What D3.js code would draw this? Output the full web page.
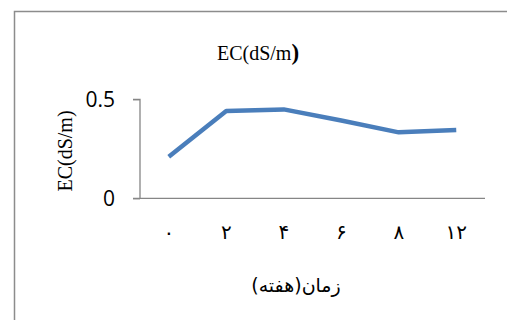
<!DOCTYPE html>
<html>
<head>
<meta charset="utf-8">
<script src="https://cdn.jsdelivr.net/npm/d3@7"></script>
<style>
html,body{margin:0;padding:0;background:#fff;overflow:hidden;}
svg{display:block;}
</style>
</head>
<body>
<svg id="chart" width="507" height="320"></svg>
<script>
const categories = ["0", "2", "4", "6", "8", "12"];
const tickLabels = ["۰", "۲", "۴", "۶", "۸", "۱۲"];
const ecValues = [0.21, 0.441, 0.449, 0.393, 0.333, 0.345];
const yTicks = [0, 0.5];
const yTickLabels = ["0", "0.5"];
const titleText = "EC(dS/m";
const yTitleText = "EC(dS/m)";
const xTitleText = "زمان(هفته)";

const svg = d3.select("#chart");

// chart border (only top and left are visible in the frame)
svg.append("path")
  .attr("d", "M14.5,320V11.5H507")
  .attr("fill", "none").attr("stroke", "#8c8c8c").attr("stroke-width", 1.5);

const plot = {left: 140, right: 485, top: 99.3, bottom: 198.3};

const x = d3.scaleBand().domain(categories).range([plot.left, plot.right]).padding(0);
const y = d3.scaleLinear().domain([0, 0.5]).range([plot.bottom, plot.top]);

// y axis
const yAxis = d3.axisLeft(y).tickValues(yTicks).tickSize(7).tickFormat(() => "");
const gy = svg.append("g").attr("transform", `translate(${plot.left},0)`).call(yAxis);
gy.select(".domain").attr("stroke", "#868686").attr("stroke-width", 1.3).attr("d", `M-7,${y(0.5)}H0V${y(0)}`);
gy.selectAll(".tick line").attr("stroke", "#868686").attr("stroke-width", 1.3);

// y tick labels
svg.append("g").selectAll("text").data(yTicks).join("text")
  .attr("x", 115).attr("y", d => y(d) + 7.5)
  .attr("text-anchor", "end")
  .attr("font-family", "'Open Sans', sans-serif").attr("font-size", 21)
  .attr("fill", "#000")
  .text((d, i) => yTickLabels[i]);

// x axis
const xAxis = d3.axisBottom(x).tickSize(0).tickFormat((d, i) => tickLabels[i]);
const gx = svg.append("g").attr("transform", `translate(0,${plot.bottom})`).call(xAxis);
gx.select(".domain").attr("stroke", "#868686").attr("stroke-width", 1.3).attr("d", `M${plot.left - 7},0H${plot.right}`);
gx.selectAll(".tick text")
  .attr("y", 41).attr("dy", 0)
  .attr("font-family", "'DejaVu Sans', sans-serif").attr("font-size", 20)
  .attr("fill", "#000");

// line
const line = d3.line().x((d, i) => x(categories[i]) + x.bandwidth() / 2).y(d => y(d));
svg.append("path").datum(ecValues)
  .attr("d", line)
  .attr("fill", "none").attr("stroke", "#4a7ebb").attr("stroke-width", 4.5)
  .attr("stroke-linejoin", "round").attr("stroke-linecap", "butt");

// title
const t = svg.append("text")
  .attr("x", 258).attr("y", 60)
  .attr("text-anchor", "middle")
  .attr("font-family", "'Liberation Serif', 'Times New Roman', serif").attr("font-size", 20)
  .attr("fill", "#000");
t.append("tspan").text(titleText);
t.append("tspan").attr("font-size", 23).attr("font-weight", "bold").text(")");

// y axis title
svg.append("text")
  .attr("transform", `translate(72,151) rotate(-90)`)
  .attr("text-anchor", "middle")
  .attr("font-family", "'Liberation Serif', 'Times New Roman', serif").attr("font-size", 20)
  .attr("fill", "#000")
  .text(yTitleText);

// x axis title
svg.append("text")
  .attr("x", 296).attr("y", 292)
  .attr("text-anchor", "middle")
  .attr("direction", "rtl")
  .attr("font-family", "'DejaVu Sans', sans-serif").attr("font-size", 19)
  .attr("fill", "#000")
  .text(xTitleText);
</script>
</body>
</html>
